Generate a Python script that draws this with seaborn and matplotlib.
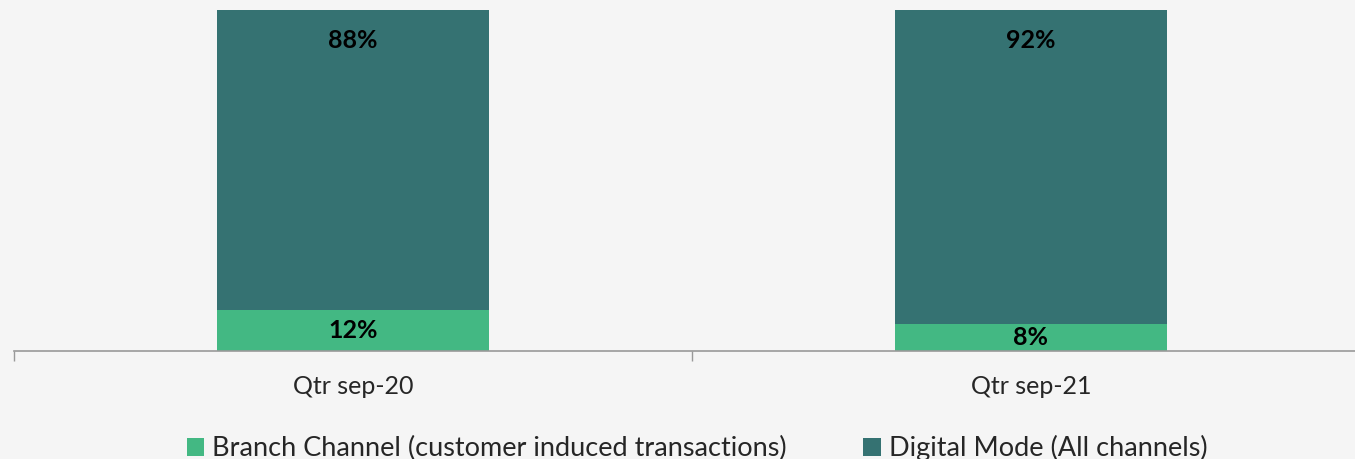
import pandas as pd
import matplotlib.pyplot as plt
import seaborn as sns

quarters = ['Qtr sep-20', 'Qtr sep-21']
branch_pct = [12, 8]
digital_pct = [88, 92]

branch_label = 'Branch Channel (customer induced transactions)'
digital_label = 'Digital Mode (All channels)'

df = pd.DataFrame({'quarter': quarters, 'branch': branch_pct, 'digital': digital_pct})
df['total'] = df['branch'] + df['digital']

sns.set_style('white')
plt.rcParams['font.family'] = ['Lato', 'DejaVu Sans']

fig = plt.figure(figsize=(13.55, 4.59), dpi=100, facecolor='#f5f5f5')
ax = fig.add_axes([14 / 1355, 108 / 459, 1356 / 1355, 341 / 459])
ax.set_facecolor('none')

# stacked bars: full height in teal, branch share drawn over it in green
sns.barplot(x='quarter', y='total', data=df, color='#357272', saturation=1,
            width=0.4, linewidth=0, label=digital_label, ax=ax)
sns.barplot(x='quarter', y='branch', data=df, color='#43b883', saturation=1,
            width=0.4, linewidth=0, label=branch_label, ax=ax)
handles, labels = ax.get_legend_handles_labels()
if ax.get_legend() is not None:
    ax.get_legend().remove()

for i, row in df.iterrows():
    ax.text(i, row['branch'] / 2, f"{row['branch']}%", ha='center', va='center',
            fontsize=18, fontweight='bold', color='black')
    ax.text(i, row['total'] - 9, f"{row['digital']}%", ha='center', va='center',
            fontsize=18, fontweight='bold', color='black')

ax.set_ylim(0, 100)
ax.set_xlim(-0.5, 1.5)
ax.set_xticks([-0.5, 0.5, 1.5], minor=False)
ax.set_xticklabels([])
ax.set_xticks([0, 1], minor=True)
ax.set_xticklabels(quarters, minor=True, fontsize=18)
ax.tick_params(axis='x', which='major', bottom=True, length=7, width=1,
               color='#999999', direction='out')
ax.tick_params(axis='x', which='minor', bottom=True, length=0, pad=17)
ax.set_yticks([])
ax.set_xlabel('')
ax.set_ylabel('')

for side in ['top', 'right', 'left']:
    ax.spines[side].set_visible(False)
ax.spines['bottom'].set_color('#999999')
ax.spines['bottom'].set_linewidth(1.2)

order = [labels.index(branch_label), labels.index(digital_label)]
fig.legend([handles[k] for k in order], [labels[k] for k in order],
           loc='center', bbox_to_anchor=(697 / 1355, 1 - 448 / 459), ncol=2,
           frameon=False, fontsize=19.5, handlelength=0.65, handleheight=0.65,
           handletextpad=0.3, columnspacing=2.8, borderpad=0)

plt.savefig('out.png', dpi=100, facecolor=fig.get_facecolor())
